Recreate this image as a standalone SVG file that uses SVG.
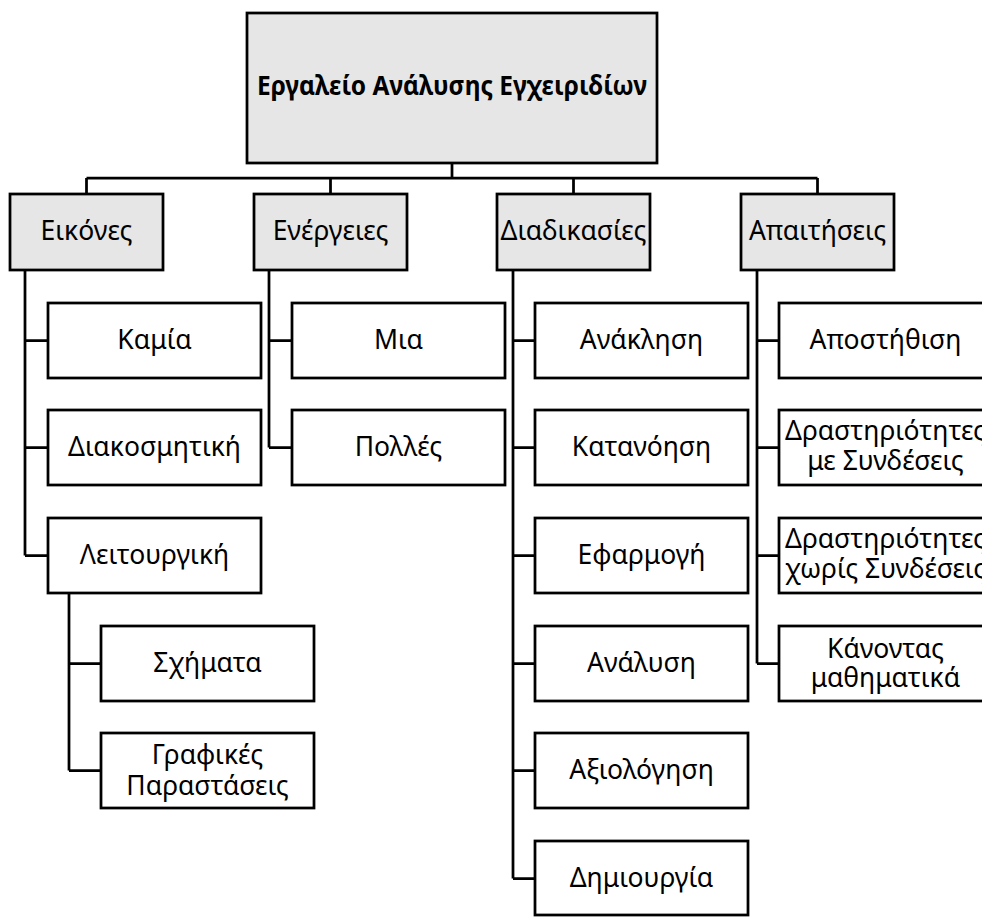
<svg xmlns="http://www.w3.org/2000/svg" width="982" height="917" viewBox="0 0 982 917">
<style>
.box{fill:#ffffff;stroke:#000;stroke-width:2.75}
.grey{fill:#e6e6e6}
.con{fill:none;stroke:#000;stroke-width:2.75}
text{font-family:"Noto Sans","Open Sans",sans-serif;font-size:26.5px;text-anchor:middle;fill:#000}
.title{font-weight:bold;font-size:26px}
</style>
<rect width="982" height="917" fill="#fff"/>
<g id="connectors">
<path class="con" d="M452,163V178M86.5,178H817.5M86.5,178V194M330.5,178V194M573.5,178V194M817.5,178V194"/>
<path class="con" d="M25,270V555.5M25,340.5H48M25,447.5H48M25,555.5H48"/>
<path class="con" d="M69,593V770.5M69,663.5H101M69,770.5H101"/>
<path class="con" d="M269,270V447.5M269,340.5H292M269,447.5H292"/>
<path class="con" d="M513,270V878.5M513,340.5H535M513,447.5H535M513,555.5H535M513,663.5H535M513,770.5H535M513,878.5H535"/>
<path class="con" d="M757,270V663.5M757,340.5H779M757,447.5H779M757,555.5H779M757,663.5H779"/>
</g>
<g id="root"><rect class="box grey" x="247" y="13" width="410" height="150"/><text class="title" x="452" y="95" textLength="390" lengthAdjust="spacingAndGlyphs">Εργαλείο Ανάλυσης Εγχειριδίων</text></g>
<g id="eikones"><rect class="box grey" x="10" y="194" width="153" height="76"/><text x="86.5" y="240">Εικόνες</text></g>
<g id="energeies"><rect class="box grey" x="254" y="194" width="153" height="76"/><text x="330.5" y="240">Ενέργειες</text></g>
<g id="diadikasies"><rect class="box grey" x="497" y="194" width="153" height="76"/><text x="573.5" y="240">Διαδικασίες</text></g>
<g id="apaitiseis"><rect class="box grey" x="741" y="194" width="153" height="76"/><text x="817.5" y="240">Απαιτήσεις</text></g>

<g id="kamia"><rect class="box" x="48" y="303" width="213" height="75"/><text x="154.5" y="349">Καμία</text></g>
<g id="diakosmitiki"><rect class="box" x="48" y="410" width="213" height="75"/><text x="154.5" y="456">Διακοσμητική</text></g>
<g id="leitourgiki"><rect class="box" x="48" y="518" width="213" height="75"/><text x="154.5" y="564">Λειτουργική</text></g>
<g id="schimata"><rect class="box" x="101" y="626" width="213" height="75"/><text x="207.5" y="672">Σχήματα</text></g>
<g id="grafikes"><rect class="box" x="101" y="733" width="213" height="75"/><text x="207.5" y="764">Γραφικές</text><text x="207.5" y="795">Παραστάσεις</text></g>

<g id="mia"><rect class="box" x="292" y="303" width="213" height="75"/><text x="398.5" y="349">Μια</text></g>
<g id="polles"><rect class="box" x="292" y="410" width="213" height="75"/><text x="398.5" y="456">Πολλές</text></g>

<g id="anaklisi"><rect class="box" x="535" y="303" width="213" height="75"/><text x="641.5" y="349">Ανάκληση</text></g>
<g id="katanoisi"><rect class="box" x="535" y="410" width="213" height="75"/><text x="641.5" y="456">Κατανόηση</text></g>
<g id="efarmogi"><rect class="box" x="535" y="518" width="213" height="75"/><text x="641.5" y="564">Εφαρμογή</text></g>
<g id="analysi"><rect class="box" x="535" y="626" width="213" height="75"/><text x="641.5" y="672">Ανάλυση</text></g>
<g id="axiologisi"><rect class="box" x="535" y="733" width="213" height="75"/><text x="641.5" y="779">Αξιολόγηση</text></g>
<g id="dimiourgia"><rect class="box" x="535" y="841" width="213" height="74"/><text x="641.5" y="887">Δημιουργία</text></g>

<g id="apostithisi"><rect class="box" x="779" y="303" width="213" height="75"/><text x="885.5" y="349">Αποστήθιση</text></g>
<g id="me-syndeseis"><rect class="box" x="779" y="410" width="213" height="75"/><text x="885.5" y="440">Δραστηριότητες</text><text x="885.5" y="470">με Συνδέσεις</text></g>
<g id="choris-syndeseis"><rect class="box" x="779" y="518" width="213" height="75"/><text x="885.5" y="548">Δραστηριότητες</text><text x="885.5" y="578">χωρίς Συνδέσεις</text></g>
<g id="kanontas"><rect class="box" x="779" y="626" width="213" height="75"/><text x="885.5" y="658">Κάνοντας</text><text x="885.5" y="687">μαθηματικά</text></g>
</svg>
